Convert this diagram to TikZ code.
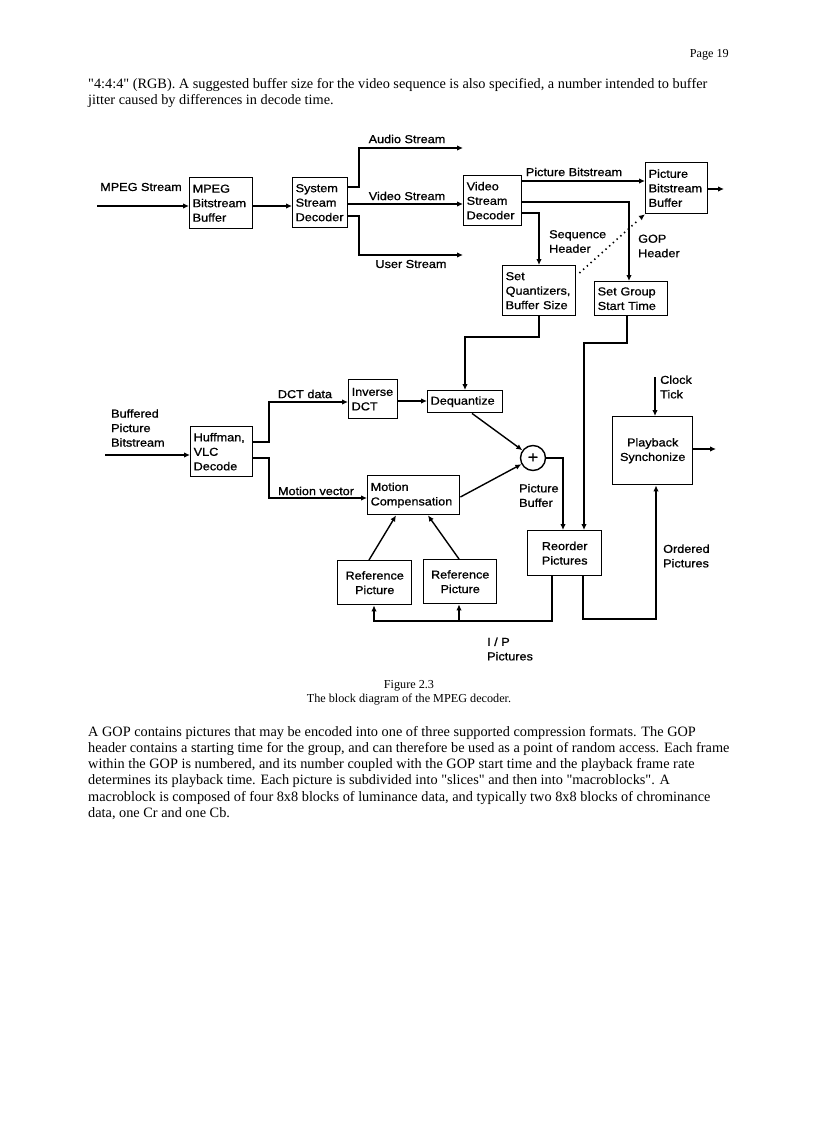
\documentclass[tikz,border=0pt]{standalone}
\usepackage{fontspec}
\setmainfont{Liberation Serif}[Ligatures=TeXOff]
\newfontfamily\dfont{Liberation Sans}[FakeStretch=1.1,FakeBold=0.9]
\usetikzlibrary{arrows.meta,calc}
\newcommand{\dfs}{\dfont\fontsize{11.5}{14.5}\selectfont}
\newcommand{\bfs}{\fontsize{14.3}{16.3}\selectfont}
\newcommand{\cfs}{\fontsize{12.2}{14}\selectfont}
\tikzset{
  box/.style={draw, line width=1.4pt, inner sep=3pt, align=left, anchor=north west, font=\dfs},
  cbox/.style={box, align=center},
  lbl/.style={inner sep=0pt, align=left, font=\dfs},
  conn/.style={line width=1.4pt},
  arr/.style={conn, -{Latex[length=6pt,width=5.5pt]}},
  dots/.style={line width=1.6pt, dash pattern=on 1.4pt off 3.6pt},
  body/.style={inner sep=0pt, anchor=base west, font=\bfs},
  capt/.style={inner sep=0pt, anchor=base, font=\cfs}
}
\begin{document}
\begin{tikzpicture}[x=1pt,y=-1pt]
\useasboundingbox (0,0) rectangle (816,1123);
\fill[white] (0,0) rectangle (816,1123);
% page text
\node[inner sep=0pt, anchor=base east, font=\cfs] (pg) at (729,58) {Page 19};
\node[body] (t1) at (88,89) {"4:4:4" (RGB). A suggested buffer size for the video sequence is also specified, a number intended to buffer};
\node[body] (t2) at (88,105) {jitter caused by differences in decode time.};
\node[capt] (c1) at (409,688) {Figure 2.3};
\node[capt] (c2) at (409,702) {The block diagram of the MPEG decoder.};
\node[body] (p1) at (88,736) {A GOP contains pictures that may be encoded into one of three supported compression formats. The GOP};
\node[body] (p2) at (88,752.3) {header contains a starting time for the group, and can therefore be used as a point of random access. Each frame};
\node[body] (p3) at (88,768.6) {within the GOP is numbered, and its number coupled with the GOP start time and the playback frame rate};
\node[body] (p4) at (88,784.9) {determines its playback time. Each picture is subdivided into "slices" and then into "macroblocks". A};
\node[body] (p5) at (88,801.2) {macroblock is composed of four 8x8 blocks of luminance data, and typically two 8x8 blocks of chrominance};
\node[body] (p6) at (88,817.5) {data, one Cr and one Cb.};
% boxes
\node[box, minimum height=51pt, text width=57pt] (mbb) at (189,177) {MPEG\\Bitstream\\Buffer};
\node[box, minimum height=50pt, text width=49pt] (ssd) at (292,177) {System\\Stream\\Decoder};
\node[box, minimum height=50pt, text width=52pt] (vsd) at (463,175) {Video\\Stream\\Decoder};
\node[box, minimum height=51pt, text width=56pt] (pbb) at (645,162) {Picture\\Bitstream\\Buffer};
\node[box, minimum height=50pt, text width=67pt] (sq) at (502,265) {Set\\Quantizers,\\Buffer Size};
\node[box, minimum height=34pt, text width=67pt] (sgst) at (594,281) {Set Group\\Start Time};
\node[box, minimum height=50pt, text width=56pt] (huff) at (190,426) {Huffman,\\VLC\\Decode};
\node[box, minimum height=39pt, text width=43pt] (idct) at (348,379) {Inverse\\DCT};
\node[box, minimum height=22pt, text width=69pt] (deq) at (427,390) {Dequantize};
\node[box, minimum height=39pt, text width=86pt] (mc) at (367,475) {Motion\\Compensation};
\node[cbox, minimum height=45pt, text width=68pt] (reorder) at (527,530) {Reorder\\Pictures};
\node[cbox, minimum height=68pt, text width=74pt] (play) at (612,416) {Playback\\Synchonize};
\node[cbox, minimum height=44pt, text width=68pt] (ref1) at (337,560) {Reference\\Picture};
\node[cbox, minimum height=44pt, text width=67pt] (ref2) at (423,559) {Reference\\Picture};
\node[circle, draw, line width=1.4pt, minimum size=25pt, inner sep=0pt, font=\dfont\fontsize{16}{16}\selectfont] (add) at (533,458) {+};
% labels
\node[lbl] (lmpeg) at (141,187) {MPEG Stream};
\node[lbl] (laudio) at (407,139) {Audio Stream};
\node[lbl] (lvideo) at (407,196) {Video Stream};
\node[lbl] (luser) at (411,264) {User Stream};
\node[lbl] (lpbs) at (574,172) {Picture Bitstream};
\node[lbl, anchor=west] (lseq) at (549,241.5) {Sequence\\Header};
\node[lbl, anchor=west] (lgop) at (638,246) {GOP\\Header};
\node[lbl, anchor=west] (lbuf) at (111,428) {Buffered\\Picture\\Bitstream};
\node[lbl] (ldct) at (305,394) {DCT data};
\node[lbl] (lmv) at (316,491) {Motion vector};
\node[lbl, anchor=west] (lpb) at (519,495.5) {Picture\\Buffer};
\node[lbl, anchor=west] (lclk) at (660,387) {Clock\\Tick};
\node[lbl, anchor=west] (lord) at (663,556) {Ordered\\Pictures};
\node[lbl, anchor=west] (lip) at (487,649) {I / P\\Pictures};
% free ends
\coordinate (mpegin) at (97,206);
\coordinate (audioout) at (463,148);
\coordinate (userout) at (463,255);
\coordinate (pbbout) at (724,189);
\coordinate (bufin) at (105,455);
\coordinate (clock) at (655,377);
\coordinate (playout) at (716,449);
% connectors
\draw[arr] (mpegin) -- (mbb.west |- mpegin);
\draw[arr] (mbb.east |- 0,206) -- (ssd.west |- 0,206);
\draw[arr] (ssd.east |- 0,187) -- (359,187) -- (359,148) -- (audioout);
\draw[arr] (ssd.east |- 0,204) -- (vsd.west |- 0,204);
\draw[arr] (ssd.east |- 0,216) -- (359,216) -- (359,255) -- (userout);
\draw[arr] (vsd.east |- 0,181) -- (pbb.west |- 0,181);
\draw[arr] (pbb.east |- pbbout) -- (pbbout);
\draw[arr] (vsd.east |- 0,202) -- (629,202) -- (sgst.north -| 629,0);
\draw[arr] (vsd.east |- 0,213) -- (539,213) -- (sq.north -| 539,0);
\draw[dots] ([xshift=3pt,yshift=-8pt]sq.north east) -- ([xshift=-7pt,yshift=-6pt]pbb.south west);
\draw[conn, -{Latex[length=6pt,width=5.5pt]}] ([xshift=-4pt,yshift=-3pt]pbb.south west) -- (pbb.south west);
\draw[arr] (sq.south -| 539,0) -- (539,337) -- (465,337) -- (deq.north -| 465,0);
\draw[arr] (sgst.south -| 627,0) -- (627,343) -- (584,343) -- (reorder.north -| 584,0);
\draw[arr] (bufin) -- (huff.west |- bufin);
\draw[arr] (huff.east |- 0,442) -- (269,442) -- (269,402) -- (idct.west |- 0,402);
\draw[arr] (idct.east |- 0,401) -- (deq.west |- 0,401);
\draw[arr] (huff.east |- 0,458) -- (269,458) -- (269,498) -- (mc.west |- 0,498);
\draw[arr] (deq.south -| 472,0) -- (add);
\draw[arr] (mc.east |- 0,497) -- (add);
\draw[arr] (add.east) -- (563,458) -- (reorder.north -| 563,0);
\draw[arr] (clock) -- (play.north -| clock);
\draw[arr] (play.east |- playout) -- (playout);
\draw[arr] (reorder.south -| 583,0) -- (583,619) -- (656,619) -- (play.south -| 656,0);
\draw[arr] (reorder.south -| 552,0) -- (552,621) -- (374,621) -- (ref1.south -| 374,0);
\draw[arr] (459,621) -- (ref2.south -| 459,0);
\draw[arr] (ref1.north -| 369,0) -- (mc.south -| 396,0);
\draw[arr] (ref2.north -| 459,0) -- (mc.south -| 428,0);
\end{tikzpicture}
\end{document}
